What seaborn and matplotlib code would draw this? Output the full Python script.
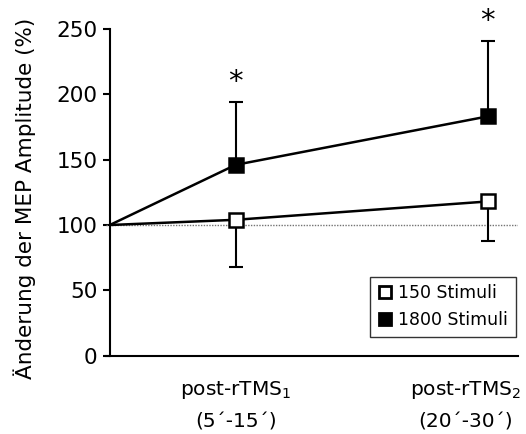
import matplotlib

matplotlib.use("Agg")
import matplotlib.pyplot as plt
import matplotlib.transforms as mtransforms
import pandas as pd
import seaborn as sns
from matplotlib.lines import Line2D

# x positions: baseline (0), post-rTMS1, post-rTMS2
time_pos = [0, 1, 3]
tick_labels = ["post-rTMS$_1$\n(5´-15´)", "post-rTMS$_2$\n(20´-30´)"]
series_names = ["150 Stimuli", "1800 Stimuli"]
amp_150 = [100, 104, 118]
amp_1800 = [100, 146, 183]
err_150_low = [0, 36, 30]
err_1800_high = [0, 48, 58]
stars_1800 = [False, True, True]


def main():
    sns.set_theme(style="white")
    plt.rcParams["font.family"] = ["DejaVu Sans"]
    plt.rcParams["mathtext.default"] = "regular"
    for key in ["text.color", "axes.labelcolor", "xtick.color", "ytick.color"]:
        plt.rcParams[key] = "black"

    df = pd.DataFrame(
        {
            "time": time_pos * 2,
            "amp": amp_150 + amp_1800,
            "series": [series_names[0]] * 3 + [series_names[1]] * 3,
        }
    )

    fig = plt.figure(figsize=(5.26, 4.34), dpi=100)
    ax = fig.add_axes([0.2015, 0.18, 0.783, 0.799])

    # reference line at 100 %
    ax.axhline(100, color="0.45", lw=1.0, ls=(0, (1, 1)), zorder=1)

    styles = {
        series_names[0]: dict(mfc="white", err=(err_150_low, [0] * 3)),
        series_names[1]: dict(mfc="black", err=([0] * 3, err_1800_high)),
    }
    for name, st in styles.items():
        sub = df[df["series"] == name]
        ax.errorbar(
            sub["time"][1:], sub["amp"][1:],
            yerr=[st["err"][0][1:], st["err"][1][1:]],
            fmt="none", ecolor="black", elinewidth=1.5, capsize=5, capthick=1.5, zorder=2,
        )
        sns.lineplot(
            data=sub, x="time", y="amp", ax=ax, color="black", lw=1.8,
            marker="s", markevery=[1, 2], ms=10, mfc=st["mfc"], mec="black", mew=1.8,
            zorder=3,
        )

    for x, y, e, s in zip(time_pos, amp_1800, err_1800_high, stars_1800):
        if s:
            ax.annotate("*", (x, y + e), xytext=(0, 4), textcoords="offset points",
                        ha="center", va="bottom", fontsize=21)

    ax.set_xlim(-0.03, 3.24)
    ax.set_ylim(0, 265)
    ax.set_yticks([0, 50, 100, 150, 200, 250])
    ax.spines["left"].set_position(("data", 0))
    ax.spines["left"].set_bounds(0, 250)
    ax.spines["top"].set_visible(False)
    ax.spines["right"].set_visible(False)
    for sp in ["left", "bottom"]:
        ax.spines[sp].set_color("black")
        ax.spines[sp].set_linewidth(1.5)

    ax.set_xticks(time_pos[1:])
    ax.set_xticklabels(tick_labels, fontsize=14.5, linespacing=1.75)
    ax.tick_params(axis="x", length=0, pad=17)
    ax.tick_params(axis="y", left=True, length=5, width=1.5, color="black", labelsize=15.5, pad=4)
    lab = ax.get_xticklabels()[1]
    lab.set_transform(lab.get_transform() + mtransforms.ScaledTranslation(-0.22, 0, fig.dpi_scale_trans))

    ax.set_xlabel("")
    ax.set_ylabel("Änderung der MEP Amplitude (%)", fontsize=15.5)
    ax.yaxis.set_label_coords(-0.17, 0.455)

    handles = [
        Line2D([], [], ls="none", marker="s", ms=9, mfc="white", mec="black", mew=2),
        Line2D([], [], ls="none", marker="s", ms=9, mfc="black", mec="black", mew=2),
    ]
    leg = ax.legend(handles, series_names, loc="lower right", bbox_to_anchor=(0.995, 0.055),
                    borderaxespad=0, fontsize=12.5, frameon=True, fancybox=False,
                    handlelength=0.8, handletextpad=0.35, borderpad=0.45, labelspacing=0.5)
    leg.get_frame().set_edgecolor("black")
    leg.get_frame().set_linewidth(1.0)

    fig.savefig("out.png", dpi=100)


if __name__ == "__main__":
    main()
